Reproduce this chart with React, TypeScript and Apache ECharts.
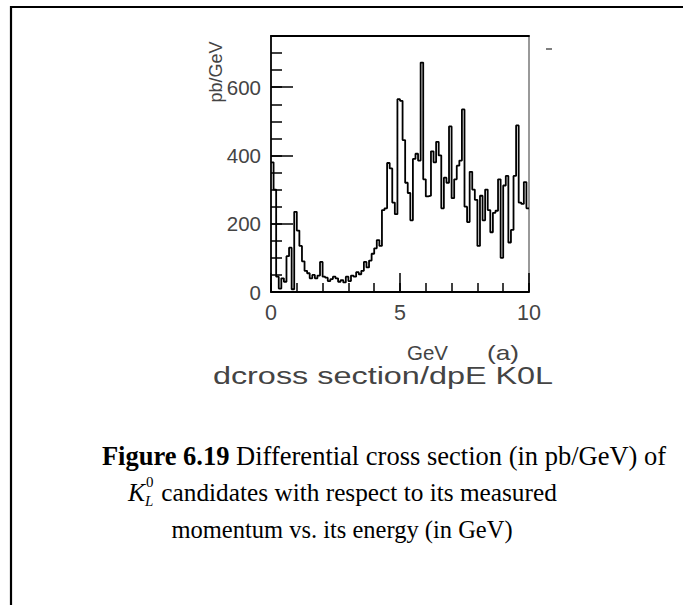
import React, { useEffect, useRef } from "react";
import * as echarts from "echarts";

// Differential cross section (pb/GeV) per 0.1 GeV energy bin, 0 – 10 GeV
const crossSection: number[] = [
  380, 300, 45, 10, 40, 30, 105, 130, 8, 235,
  180, 135, 90, 62, 55, 40, 50, 40, 48, 88,
  45, 42, 32, 38, 45, 40, 30, 35, 28, 45,
  32, 48, 45, 58, 52, 62, 88, 72, 92, 112,
  128, 152, 135, 240, 245, 378, 362, 262, 228, 565,
  560, 445, 320, 290, 210, 390, 405, 385, 672, 330,
  280, 282, 412, 380, 440, 400, 245, 335, 320, 485,
  275, 330, 370, 385, 535, 250, 205, 352, 300, 270,
  135, 282, 210, 300, 240, 175, 232, 238, 330, 100,
  312, 340, 145, 182, 340, 488, 262, 258, 322, 245,
];
const BIN_WIDTH = 0.1;
const X_MIN = 0;
const X_MAX = 10;
const Y_MIN = 0;
const Y_MAX = 750;
const yMajorTicks = [0, 200, 400, 600];
const xMajorTicks = [0, 5, 10];

const yAxisName = "pb/GeV";
const xAxisName = "GeV";
const panelTag = "(a)";
const histTitle = "dcross section/dpE K0L";
const captionBold = "Figure 6.19";
const captionLine1 = " Differential cross section (in pb/GeV) of";
const captionLine2 = " candidates with respect to its measured";
const captionLine3 = "momentum vs. its energy (in GeV)";

export default function App() {
  const ref = useRef<HTMLDivElement>(null);
  useEffect(() => {
    if (!ref.current) return;
    const chart = echarts.init(ref.current, undefined, { renderer: "svg" });
    const points: [number, number][] = crossSection.map((v, i) => [
      +(X_MIN + i * BIN_WIDTH).toFixed(2),
      v,
    ]);
    points.push([X_MAX, crossSection[crossSection.length - 1]]);

    const labelFont = "Liberation Sans";
    const labelColor = "#444";
    const serif = "Liberation Serif";
    const frame = { color: "#000", width: 1.8 };

    chart.setOption({
      animation: false,
      backgroundColor: "#fff",
      grid: { left: 271, top: 36, right: 154, bottom: 313, containLabel: false },
      xAxis: [
        {
          type: "value", min: X_MIN, max: X_MAX, interval: 1, position: "bottom",
          axisLine: { show: true, onZero: false, lineStyle: frame },
          axisTick: { show: true, inside: true, length: 9, lineStyle: { color: "#000", width: 1.5 } },
          axisLabel: { show: false }, splitLine: { show: false },
        },
        {
          type: "value", min: X_MIN, max: X_MAX, interval: 5, position: "bottom",
          axisLine: { show: false, onZero: false },
          axisTick: { show: true, inside: true, length: 19, lineStyle: { color: "#000", width: 1.5 } },
          axisLabel: {
            show: true, fontSize: 21.5, fontFamily: labelFont, color: labelColor, margin: 10,
            formatter: (v: number) => (xMajorTicks.includes(v) ? String(v) : ""),
          },
          splitLine: { show: false },
        },
        {
          type: "value", min: X_MIN, max: X_MAX, position: "top",
          axisLine: { show: true, onZero: false, lineStyle: frame },
          axisTick: { show: false }, axisLabel: { show: false }, splitLine: { show: false },
        },
      ],
      yAxis: [
        {
          type: "value", min: Y_MIN, max: Y_MAX, interval: 50, position: "left",
          axisLine: { show: true, onZero: false, lineStyle: frame },
          axisTick: { show: true, inside: true, length: 11, lineStyle: { color: "#000", width: 1.5 } },
          axisLabel: { show: false }, splitLine: { show: false },
        },
        {
          type: "value", min: Y_MIN, max: Y_MAX, interval: 200, position: "left",
          axisLine: { show: false, onZero: false },
          axisTick: { show: true, inside: true, length: 22, lineStyle: { color: "#000", width: 1.5 } },
          axisLabel: {
            show: true, fontSize: 20.5, fontFamily: labelFont, color: labelColor, margin: 10,
            showMaxLabel: false,
            formatter: (v: number) => (yMajorTicks.includes(v) ? String(v) : ""),
          },
          splitLine: { show: false },
        },
        {
          type: "value", min: Y_MIN, max: Y_MAX, position: "right",
          axisLine: { show: true, onZero: false, lineStyle: { color: "#999", width: 2 } },
          axisTick: { show: false }, axisLabel: { show: false }, splitLine: { show: false },
        },
      ],
      series: [
        {
          type: "line",
          xAxisIndex: 0,
          yAxisIndex: 0,
          step: "end",
          data: points,
          symbol: "none",
          lineStyle: { color: "#000", width: 1.8 },
          clip: true,
        },
      ],
      graphic: [
        {
          type: "rect", silent: true,
          shape: { x: 11, y: 7, width: 900, height: 900 },
          style: { fill: "none", stroke: "#000", lineWidth: 2.2 },
        },
        {
          type: "text", x: 216, y: 72, rotation: Math.PI / 2,
          style: { text: yAxisName, fontSize: 18, fontFamily: labelFont, fill: labelColor, align: "center", verticalAlign: "middle" },
        },
        {
          type: "text", x: 407, y: 352,
          style: { text: xAxisName, fontSize: 20.5, fontFamily: labelFont, fill: labelColor, align: "left", verticalAlign: "middle" },
        },
        {
          type: "text", x: 503, y: 352, scaleX: 1.25,
          style: { text: panelTag, fontSize: 21, fontFamily: labelFont, fill: labelColor, align: "center", verticalAlign: "middle" },
        },
        {
          type: "text", x: 383, y: 376, scaleX: 1.35,
          style: { text: histTitle, fontSize: 24, fontFamily: labelFont, fill: labelColor, align: "center", verticalAlign: "middle" },
        },
        {
          type: "line", shape: { x1: 546, y1: 49, x2: 552, y2: 49 },
          style: { stroke: "#555", lineWidth: 1.5 },
        },
        {
          type: "text", x: 384, y: 456,
          style: {
            text: "{b|" + captionBold + "}" + captionLine1,
            fontSize: 26.5, fontFamily: serif, fill: "#000", align: "center", verticalAlign: "middle",
            rich: { b: { fontSize: 26.5, fontFamily: serif, fontWeight: "bold", fill: "#000" } },
          },
        },
        {
          type: "group", x: 128, y: 492,
          children: [
            { type: "text", x: 0, y: 0, style: { text: "K", fontSize: 25.5, fontFamily: serif, fontStyle: "italic", fill: "#000", align: "left", verticalAlign: "middle" } },
            { type: "text", x: 18, y: -10, style: { text: "0", fontSize: 15, fontFamily: serif, fill: "#000", align: "left", verticalAlign: "middle" } },
            { type: "text", x: 17, y: 9, style: { text: "L", fontSize: 15, fontFamily: serif, fontStyle: "italic", fill: "#000", align: "left", verticalAlign: "middle" } },
            { type: "text", x: 27, y: 0, style: { text: captionLine2, fontSize: 25.3, fontFamily: serif, fill: "#000", align: "left", verticalAlign: "middle" } },
          ],
        },
        {
          type: "text", x: 342, y: 529,
          style: { text: captionLine3, fontSize: 24.5, fontFamily: serif, fill: "#000", align: "center", verticalAlign: "middle" },
        },
      ],
    });
    return () => chart.dispose();
  }, []);
  return (
    <div
      ref={ref}
      style={{ position: "absolute", left: 0, top: 0, width: 683, height: 605 }}
    />
  );
}
